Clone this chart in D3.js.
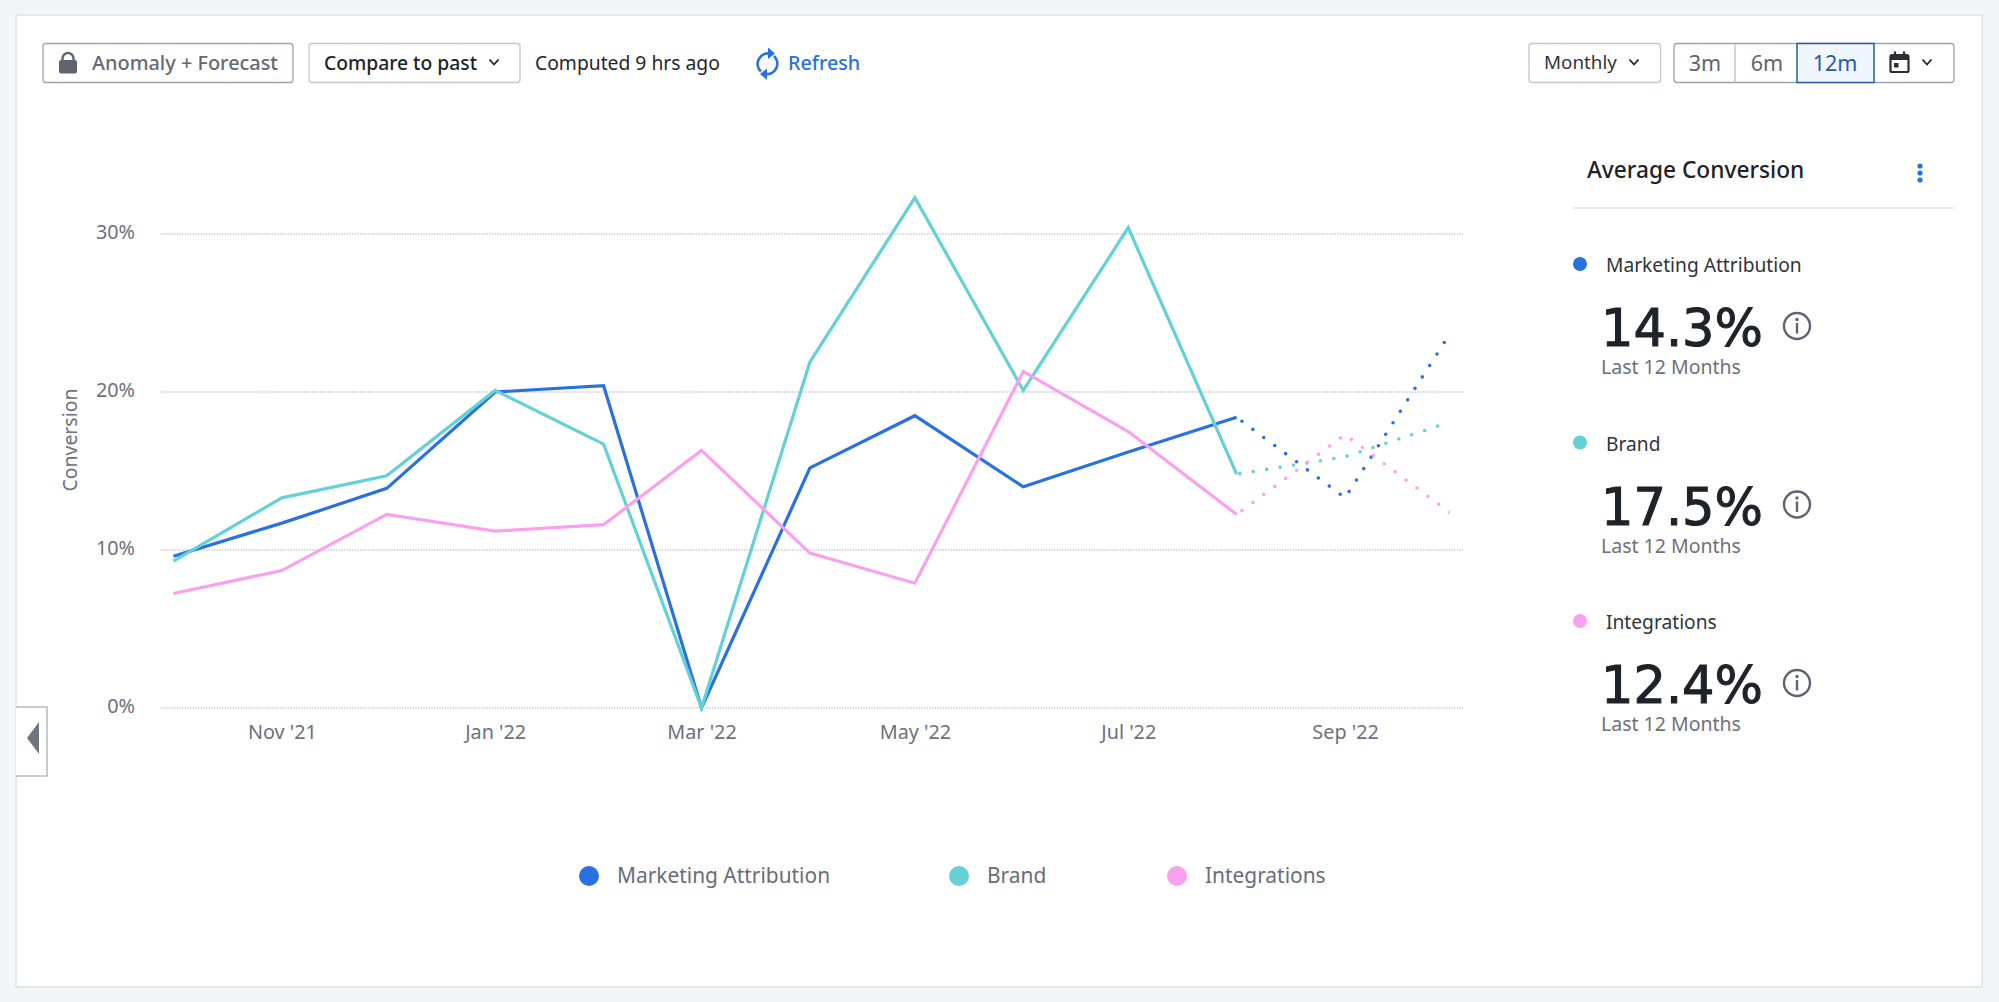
<!DOCTYPE html>
<html><head><meta charset="utf-8">
<script src="https://cdn.jsdelivr.net/npm/d3@7/dist/d3.min.js"></script>
<style>
html,body{margin:0;padding:0;background:#f3f5f7;}
svg{display:block;}
text{font-family:"Noto Sans",sans-serif;}
</style></head><body>
<svg id="c" width="1999" height="1002"></svg>
<script>
// ---- data ----
const months = ["2021-10-01","2021-11-01","2021-12-01","2022-01-01","2022-02-01","2022-03-01","2022-04-01","2022-05-01","2022-06-01","2022-07-01","2022-08-01"];
const forecastMonths = ["2022-08-01","2022-09-01","2022-10-01"];
const seriesNames = ["Marketing Attribution","Brand","Integrations"];
const marketing = [9.6,11.7,13.9,20.0,20.4,0,15.2,18.5,14.0,16.2,18.4];
const brand = [9.3,13.3,14.7,20.1,16.7,0,21.9,32.3,20.1,30.4,14.8];
const integrations = [7.25,8.7,12.25,11.2,11.6,16.3,9.8,7.9,21.3,17.5,12.25];
const marketingForecast = [18.4,13.3,23.7];
const brandForecast = [14.8,15.9,18.1];
const integrationsForecast = [12.25,17.3,12.36];
const averages = ["14.3%","17.5%","12.4%"];
const yTicks = [0,10,20,30];
const xTicks = ["2021-11-01","2022-01-01","2022-03-01","2022-05-01","2022-07-01","2022-09-01"];
const colors = ["#2a71e0","#63d1d5","#f9a1ee"];

const svg = d3.select("#c");
const parse = d3.utcParse("%Y-%m-%d");
const x = d3.scaleUtc().domain([parse("2021-10-01"),parse("2022-10-01")]).range([173.4,1450]);
const y = d3.scaleLinear().domain([0,30]).range([708,234]);
const gridL = 161, gridR = 1463;

// card
svg.append("rect").attr("x",16).attr("y",15).attr("width",1966).attr("height",972)
  .attr("fill","#fff").attr("stroke","#dfe2e6").attr("stroke-width",1.5);
svg.append("clipPath").attr("id","plot").append("rect").attr("x",gridL).attr("y",100).attr("width",1449.5-gridL).attr("height",700);

function txt(s,px,py,size,fill,weight,anchor){
  return svg.append("text").text(s).attr("x",px).attr("y",py).attr("font-size",size)
    .attr("fill",fill).attr("font-weight",weight||400).attr("text-anchor",anchor||"start");
}
function btn(x0,x1,stroke){
  svg.append("rect").attr("x",x0).attr("y",43.5).attr("width",x1-x0).attr("height",39).attr("rx",3)
    .attr("fill","#fff").attr("stroke",stroke).attr("stroke-width",1.3);
}
function chev(cx,cy,col){
  svg.append("path").attr("d",`M${cx-4.5},${cy-2.5}L${cx},${cy+2.5}L${cx+4.5},${cy-2.5}`).attr("fill","none")
    .attr("stroke",col).attr("stroke-width",1.8);
}

// toolbar left
btn(43,293,"#9ea3ad");
svg.append("rect").attr("x",59).attr("y",60).attr("width",18).attr("height",13.5).attr("rx",2).attr("fill","#5f6470");
svg.append("path").attr("d","M62.5,61V58.5a5.5,5.5 0 0 1 11,0V61").attr("fill","none").attr("stroke","#5f6470").attr("stroke-width",2.4);
txt("Anomaly + Forecast",92,70,19.9,"#646974",500);
btn(309,520,"#c3c7ce");
txt("Compare to past",324,70,19.3,"#1e2229",500);
chev(494,62,"#1e2229");
txt("Computed 9 hrs ago",535,70,19.3,"#23272e");
const rf = svg.append("g").attr("fill","none").attr("stroke","#2a71e0").attr("stroke-width",2.7);
rf.append("path").attr("d","M761,71.5A10.5,10.5 0 0 1 770,53.5");
rf.append("path").attr("d","M774,56A10.5,10.5 0 0 1 765,74");
svg.append("path").attr("d","M768,47.5L775,53.5L768,59Z").attr("fill","#2a71e0");
svg.append("path").attr("d","M767,68.5L760,74L767,80Z").attr("fill","#2a71e0");
txt("Refresh",788,70,19.8,"#2a71e0",500);

// toolbar right
btn(1529,1660.5,"#c3c7ce");
txt("Monthly",1544,69,18.8,"#30343b");
chev(1634,62,"#1e2229");
btn(1674,1954,"#9ea3ad");
svg.append("line").attr("x1",1735).attr("x2",1735).attr("y1",43.5).attr("y2",82.5).attr("stroke","#b9bec7").attr("stroke-width",1.3);
svg.append("rect").attr("x",1797).attr("y",43.5).attr("width",77).attr("height",39).attr("fill","#eff6fe").attr("stroke","#2a5aa5").attr("stroke-width",1.5);
txt("3m",1705,71,21.5,"#5f6470",400,"middle");
txt("6m",1767,71,21.5,"#5f6470",400,"middle");
txt("12m",1835,71,21.5,"#2a5aa5",400,"middle");
svg.append("rect").attr("x",1890.5).attr("y",55).attr("width",18).attr("height",17).attr("rx",1.5).attr("fill","none").attr("stroke","#2a2e35").attr("stroke-width",2.2);
svg.append("rect").attr("x",1890.5).attr("y",55).attr("width",18).attr("height",5).attr("fill","#2a2e35");
svg.append("path").attr("d","M1895,51.5V56M1904,51.5V56").attr("stroke","#2a2e35").attr("stroke-width",2.2);
svg.append("rect").attr("x",1894).attr("y",63).attr("width",4.5).attr("height",4.5).attr("fill","#2a2e35");
chev(1927,62,"#1e2229");

// grid
const grid = svg.append("g");
grid.selectAll("line").data(yTicks).join("line")
  .attr("x1",gridL).attr("x2",gridR).attr("y1",d=>y(d)).attr("y2",d=>y(d))
  .attr("stroke","#c0c6d0").attr("stroke-width",1.3).attr("stroke-dasharray","1.3 1.35");

// axes
const axY = svg.append("g").attr("transform","translate(135,0)")
  .call(d3.axisLeft(y).tickValues(yTicks).tickSize(0).tickPadding(0).tickFormat(d=>d+"%"));
const axX = svg.append("g").attr("transform","translate(0,708)")
  .call(d3.axisBottom(x).tickValues(xTicks.map(parse)).tickSize(0).tickPadding(17).tickFormat(d3.utcFormat("%b '%y")));
[axY,axX].forEach(a=>{
  a.select(".domain").remove();
  a.selectAll("text").attr("font-size",19.8).attr("fill","#6c717b").style("font-family",'"Noto Sans",sans-serif');
});
axY.selectAll("text").attr("dy","0.22em");
svg.append("text").text("Conversion").attr("transform","translate(77,440) rotate(-90)").attr("text-anchor","middle")
  .attr("font-size",19.4).attr("fill","#6c717b");

// series
const line = d3.line().x(d=>x(d.t)).y(d=>y(d.v));
const solid = [marketing,brand,integrations];
const fore = [marketingForecast,brandForecast,integrationsForecast];
const dashPhase = [-6.6,-3.2,-6.5];
svg.append("g").selectAll("path").data(solid).join("path")
  .attr("d",s=>line(s.map((v,i)=>({t:parse(months[i]),v}))))
  .attr("fill","none").attr("stroke",(d,i)=>colors[i]).attr("stroke-width",3.2);
svg.append("g").attr("clip-path","url(#plot)").selectAll("path").data(fore).join("path")
  .attr("d",s=>line(s.map((v,i)=>({t:parse(forecastMonths[i]),v}))))
  .attr("fill","none").attr("stroke",(d,i)=>colors[i]).attr("stroke-width",3.6)
  .attr("stroke-linecap","round").attr("stroke-dasharray","0 13.6").attr("stroke-dashoffset",(d,i)=>dashPhase[i]);

// left tab
svg.append("path").attr("d","M16,707H47V776H16").attr("fill","#fff").attr("stroke","#b4b9c2").attr("stroke-width",1.5);
svg.append("path").attr("d","M39,722V754L27,738Z").attr("fill","#70757f");

// bottom legend
const legX = [589,959,1177], legT = [617,987,1205];
seriesNames.forEach((n,i)=>{
  svg.append("circle").attr("cx",legX[i]).attr("cy",876).attr("r",10).attr("fill",colors[i]);
  txt(n,legT[i],883,20.9,"#686d78");
});

// right panel
txt("Average Conversion",1587,178,22.7,"#1e2229",500);
[166,173,180].forEach(c=>svg.append("circle").attr("cx",1920).attr("cy",c).attr("r",2.6).attr("fill","#2a71e0"));
svg.append("line").attr("x1",1573).attr("x2",1954).attr("y1",208).attr("y2",208).attr("stroke","#dfe2e6").attr("stroke-width",1.5);
const step = 178.5;
seriesNames.forEach((n,i)=>{
  const o = i*step;
  svg.append("circle").attr("cx",1580).attr("cy",264+o).attr("r",7).attr("fill",colors[i]);
  txt(n,1606,272+o,19.2,"#30343b");
  txt(averages[i],1601,346+o,51,"#1e2229",400)
    .style("font-family",'"DejaVu Sans",sans-serif').attr("stroke","#1e2229").attr("stroke-width",1.1);
  svg.append("circle").attr("cx",1797).attr("cy",326+o).attr("r",13).attr("fill","none").attr("stroke","#5f6470").attr("stroke-width",2.4);
  svg.append("circle").attr("cx",1797).attr("cy",319.5+o).attr("r",1.7).attr("fill","#5f6470");
  svg.append("rect").attr("x",1795.8).attr("y",323+o).attr("width",2.4).attr("height",10.5).attr("fill","#5f6470");
  txt("Last 12 Months",1601,374+o,19.5,"#6c717b");
});
</script>
</body></html>
